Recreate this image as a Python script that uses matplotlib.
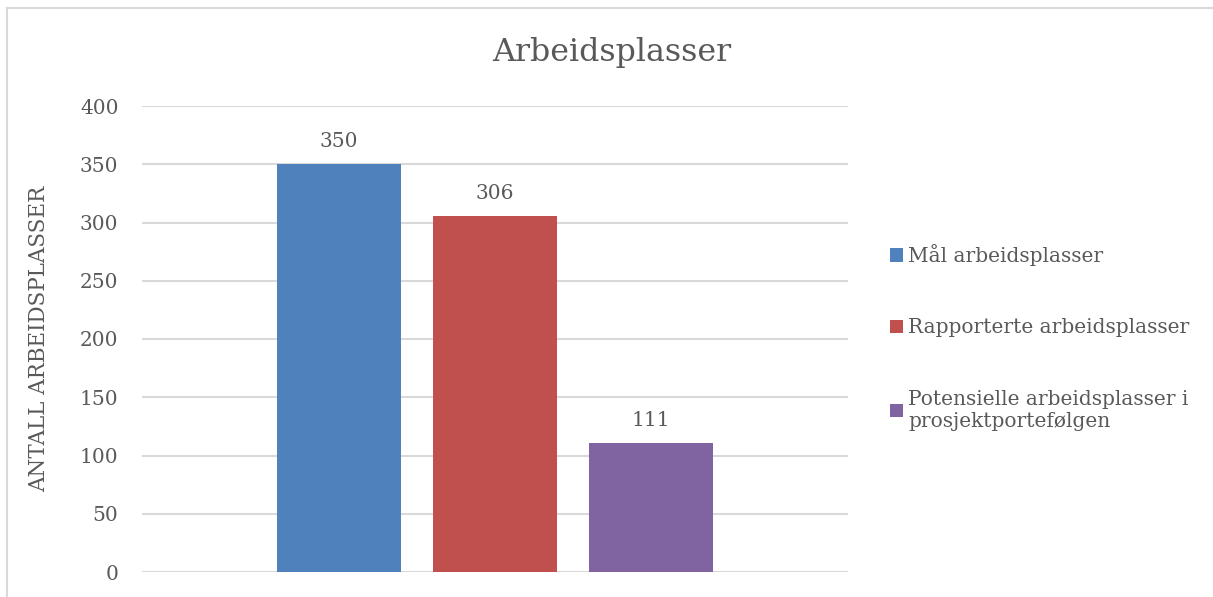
import matplotlib.pyplot as plt
from matplotlib.lines import Line2D
from matplotlib.patches import Patch

# 数据
series = ["Mål arbeidsplasser", "Rapporterte arbeidsplasser",
          "Potensielle arbeidsplasser i\nprosjektporteføl" + "gen"]
values = [350, 306, 111]
colors = ["#4F81BD", "#C0504D", "#8064A2"]
yticks = [0, 50, 100, 150, 200, 250, 300, 350, 400]

plt.rcParams["font.family"] = "DejaVu Serif"
text_color = "#595959"
grid_color = "#D9D9D9"

fig = plt.figure(figsize=(12.13, 5.97), dpi=100)
ax = fig.add_axes([142 / 1213, 25 / 597, 706 / 1213, 466 / 597])

# 柱子：一个类别，三个系列
offsets = [-1, 0, 1]
bars = ax.bar(offsets, values, width=0.795, color=colors, zorder=3)
for b, v in zip(bars, values):
    ax.text(b.get_x() + b.get_width() / 2, v + 11, str(v),
            ha="center", va="bottom", fontsize=14.5, color=text_color)

ax.set_xlim(-2.263, 2.263)
ax.set_ylim(0, 400)
ax.set_yticks(yticks)
ax.set_xticks([])
ax.yaxis.grid(True, color=grid_color, linewidth=1.5, zorder=0)
for s in ax.spines.values():
    s.set_visible(False)
ax.tick_params(axis="y", length=0, pad=17, labelsize=14.5, labelcolor=text_color)
ax.set_ylabel("ANTALL ARBEIDSPLASSER", fontsize=15.5, color=text_color, labelpad=21)

# 标题
fig.text(612 / 1213, 1 - 53 / 597, "Arbeidsplasser", ha="center", va="center",
         fontsize=22.8, color=text_color)

# 图例
handles = [Patch(facecolor=c, edgecolor="none") for c in colors]
leg = fig.legend(handles, series, loc="upper left",
                 bbox_to_anchor=(872 / 1213, 1 - 226 / 597),
                 frameon=False, fontsize=14.5, labelcolor=text_color,
                 handlelength=0.65, handleheight=0.65, handletextpad=0.25,
                 labelspacing=2.6)

# 外框（只显示上边和左边）
fig.add_artist(Line2D([7 / 1213, 1], [1 - 8 / 597, 1 - 8 / 597],
                      color=grid_color, linewidth=1.5, transform=fig.transFigure))
fig.add_artist(Line2D([7 / 1213, 7 / 1213], [0, 1 - 8 / 597],
                      color=grid_color, linewidth=1.5, transform=fig.transFigure))

fig.savefig("out.png", dpi=100)
